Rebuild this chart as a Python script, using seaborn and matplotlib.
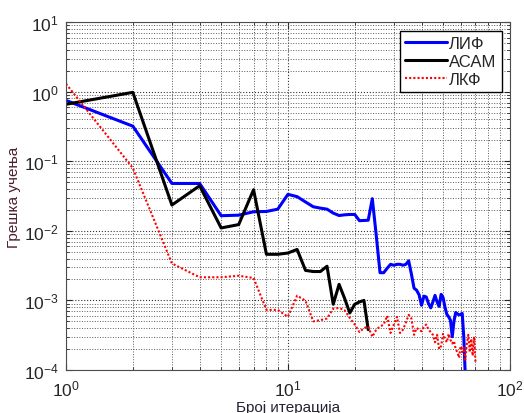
import numpy as np
import pandas as pd
import matplotlib
matplotlib.use("Agg")
import matplotlib.pyplot as plt
import seaborn as sns

# ЛИФ (blue)
lif_x = list(range(1, 64))
lif_y = [0.75, 0.32, 0.048, 0.048, 0.0165, 0.0168, 0.0188, 0.019, 0.0205, 0.0335,
         0.031, 0.026, 0.0222, 0.0212, 0.0205, 0.018, 0.0166, 0.017, 0.0172, 0.0172,
         0.014, 0.0141, 0.0142, 0.029, 0.0086, 0.0025, 0.0025, 0.0029, 0.0033, 0.0032,
         0.0033, 0.0033, 0.0032, 0.0033, 0.0037, 0.0024, 0.0015, 0.0014, 0.0012, 0.00085,
         0.00115, 0.00112, 0.0009, 0.00078, 0.00095, 0.00118, 0.00095, 0.00082, 0.00122, 0.0011,
         0.0008, 0.00063, 0.00058, 0.00052, 0.00030, 0.0005, 0.00067, 0.00064, 0.00062, 0.00063,
         0.00065, 0.0003, 0.00008]

# АСАМ (black)
asam_x = list(range(1, 24))
asam_y = [0.66, 0.98, 0.0235, 0.0445, 0.011, 0.0123, 0.039, 0.0046, 0.0046, 0.0048,
          0.0054, 0.0027, 0.0026, 0.0026, 0.0031, 0.00088, 0.0017, 0.00107, 0.00066, 0.00088,
          0.00095, 0.001, 0.00038]

# ЛКФ (red dotted)
lkf_x = list(range(1, 71))
lkf_y = [1.3, 0.08, 0.0034, 0.00215, 0.00215, 0.00226, 0.0021, 0.00073, 0.00073, 0.00058,
         0.00117, 0.00099, 0.0005, 0.00052, 0.00055, 0.00076, 0.00078, 0.00072, 0.00056, 0.00045,
         0.00035, 0.0004, 0.00042, 0.0003, 0.00038, 0.00042, 0.00045, 0.0006, 0.00034, 0.00045,
         0.00058, 0.00034, 0.00038, 0.00048, 0.00062, 0.00055, 0.00032, 0.0004, 0.00038, 0.00036,
         0.00042, 0.00045, 0.00038, 0.00035, 0.00032, 0.00025, 0.00032, 0.0002, 0.00022, 0.00033,
         0.00028, 0.00025, 0.00033, 0.00027, 0.00024, 0.00026, 0.0002, 0.00018, 0.00015, 0.00022,
         0.00018, 0.00021, 0.00014, 0.00024, 0.00032, 0.00018, 0.00028, 0.00016, 0.0003, 0.00013]

labels = ["ЛИФ", "АСАМ", "ЛКФ"]
xlabel = "Број итерација"
ylabel = "Грешка учења"

sns.set_style("ticks")
plt.rcParams['font.family'] = ['Liberation Sans', 'DejaVu Sans']
plt.rcParams['mathtext.fontset'] = 'custom'
plt.rcParams['mathtext.rm'] = 'Liberation Sans'
plt.rcParams['mathtext.it'] = 'Liberation Sans'

fig = plt.figure(figsize=(5.24, 4.14), dpi=100)
ax = fig.add_axes([0.126, 0.104, 0.847, 0.840])

ax.set_xscale('log')
ax.set_yscale('log')

sns.lineplot(x=lif_x, y=lif_y, ax=ax, color='#0000ff', linewidth=2.2, label=labels[0])
sns.lineplot(x=asam_x, y=asam_y, ax=ax, color='black', linewidth=2.2, label=labels[1])
sns.lineplot(x=lkf_x, y=lkf_y, ax=ax, color='#ff0000', linewidth=1.5, linestyle=(0, (1, 1)), label=labels[2])

ax.set_xlim(1, 100)
ax.set_ylim(1e-4, 10)

ax.grid(True, which='major', linestyle=':', color='0.2', linewidth=0.8)
ax.grid(True, which='minor', linestyle=':', color='0.35', linewidth=0.7)

ax.tick_params(which='both', direction='in', top=True, right=True, labelsize=12.5)
ax.tick_params(which='major', length=4)
ax.tick_params(which='minor', length=2)
ax.tick_params(axis='x', pad=6)
ax.tick_params(axis='y', pad=5)
for s in ax.spines.values():
    s.set_color('0.3')

ax.set_xlabel(xlabel, fontsize=11, color='#222233', labelpad=1)
ax.set_ylabel(ylabel, fontsize=11, color='#4a1e2a', labelpad=2)

leg = ax.legend(loc='upper right', fontsize=12, frameon=True, fancybox=False,
                edgecolor='black', framealpha=1, handlelength=2.5, handletextpad=0.15,
                borderpad=0.3, labelspacing=0.2, borderaxespad=0.5, markerfirst=True)
leg.get_frame().set_linewidth(1.0)

fig.savefig('out.png', dpi=100)
